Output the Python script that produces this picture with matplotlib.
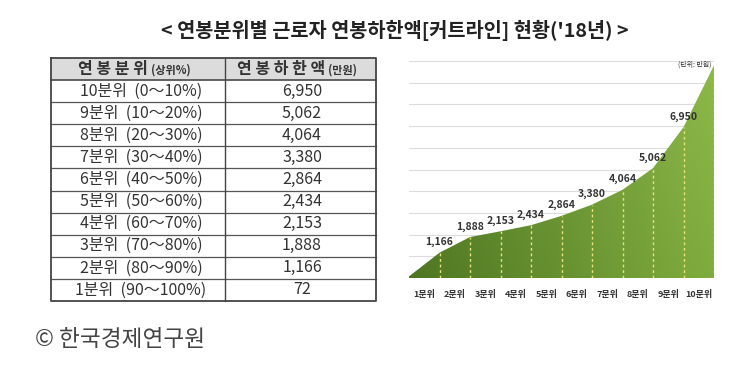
import numpy as np
import matplotlib.pyplot as plt
from matplotlib.patches import Polygon, Rectangle

plt.rcParams['font.family'] = ['Noto Sans CJK KR', 'DejaVu Sans']

# table data (top to bottom)
row_names = ['10분위', '9분위', '8분위', '7분위', '6분위', '5분위', '4분위', '3분위', '2분위', '1분위']
row_ranges = ['(0～10%)', '(10～20%)', '(20～30%)', '(30～40%)', '(40～50%)',
              '(50～60%)', '(60～70%)', '(70～80%)', '(80～90%)', '(90～100%)']
cutoffs = [6950, 5062, 4064, 3380, 2864, 2434, 2153, 1888, 1166, 72]

# chart data: boundaries of 1분위..10분위, last point
chart_vals = cutoffs[::-1] + [9800]
x_labels = ['1분위', '2분위', '3분위', '4분위', '5분위', '6분위', '7분위', '8분위', '9분위', '10분위']

W, H = 750, 377
fig = plt.figure(figsize=(W / 100, H / 100), dpi=100)

# ---- page layer in pixel coords (title, table, source)
bg = fig.add_axes([0, 0, 1, 1])
bg.set_xlim(0, W)
bg.set_ylim(H, 0)
bg.axis('off')

bg.text(395, 30, "< 연봉분위별 근로자 연봉하한액[커트라인] 현황('18년) >",
        ha='center', va='center', fontsize=14.2, fontweight='bold', color='#222222')
bg.text(35, 340, '© 한국경제연구원', ha='left', va='center', fontsize=16.3, color='#444444')

left, mid, right = 51, 225, 376
top, head_bot, bot = 58, 80, 301
row_h = (bot - head_bot) / len(cutoffs)

bg.add_patch(Rectangle((left, top), right - left, head_bot - top,
                       facecolor='#dcdcdc', edgecolor='none'))
for i in range(len(cutoffs)):
    y = head_bot + i * row_h
    bg.plot([left, right], [y, y], color='#555555', lw=0.9 if i else 1.3)
    yc = y + row_h / 2
    bg.text(141, yc, f'{row_names[i]}  {row_ranges[i]}', ha='center', va='center',
            fontsize=11.5, color='#333333')
    bg.text(302, yc, f'{cutoffs[i]:,}', ha='center', va='center',
            fontsize=11.5, color='#333333')
bg.plot([left, right, right, left, left], [top, top, bot, bot, top], color='#444444', lw=1.3)
bg.plot([mid, mid], [top, bot], color='#444444', lw=1.0)

bg.text(148, 69, '연 봉 분 위', ha='right', va='center', fontsize=11.5, fontweight='bold', color='#333333')
bg.text(151, 70, '(상위%)', ha='left', va='center', fontsize=8, fontweight='bold', color='#333333')
bg.text(325, 69, '연 봉 하 한 액', ha='right', va='center', fontsize=11.5, fontweight='bold', color='#333333')
bg.text(328, 70, '(만원)', ha='left', va='center', fontsize=8, fontweight='bold', color='#333333')

# ---- area chart
ax = fig.add_axes([409 / W, (H - 278) / H, 305 / W, 217 / H])
x = np.arange(len(chart_vals))
ax.set_xlim(0, len(chart_vals) - 1)
ax.set_ylim(0, 10000)
for s in ax.spines.values():
    s.set_visible(False)
ax.set_yticks(np.arange(1000, 10001, 1000))
ax.yaxis.grid(True, color='#dddddd', lw=0.8)
ax.set_axisbelow(True)
ax.tick_params(left=False, bottom=False, labelleft=False)
ax.set_xticks(x[:-1] + 0.5)
ax.set_xticklabels(x_labels, fontsize=6.5, fontweight='bold', color='#333333')
ax.tick_params(axis='x', pad=5)

# gradient fill clipped to the area
poly = Polygon(np.column_stack([np.r_[x, x[-1], 0], np.r_[chart_vals, 0, 0]]),
               closed=True, facecolor='none', edgecolor='none')
ax.add_patch(poly)
c0 = np.array([78, 118, 34]) / 255
c1 = np.array([128, 172, 62]) / 255
gx = np.linspace(0, 1, 200)
gy = np.linspace(0, 1, 100)[:, None, None]
grad = c0 + (c1 - c0) * gx[None, :, None]
grad = np.clip(grad + 0.05 * gy, 0, 1)
im = ax.imshow(grad, extent=[0, x[-1], 0, 10000], origin='lower', aspect='auto', zorder=2)
im.set_clip_path(poly)

for xi, v in zip(x[1:], chart_vals[1:]):
    ax.plot([xi, xi], [0, v], color='#e8e27a', lw=1.0, ls=(0, (2, 2)), zorder=3)
for xi, v in zip(x[1:-1], chart_vals[1:-1]):
    ax.text(xi, v + 250, f'{v:,}', ha='center', va='bottom', fontsize=7.5,
            fontweight='bold', color='#333333', zorder=4)

ax.text(0.99, 0.985, '(단위: 만원)', transform=ax.transAxes, ha='right', va='center',
        fontsize=5, color='#333333', zorder=4)

fig.savefig('out.png', dpi=100)
